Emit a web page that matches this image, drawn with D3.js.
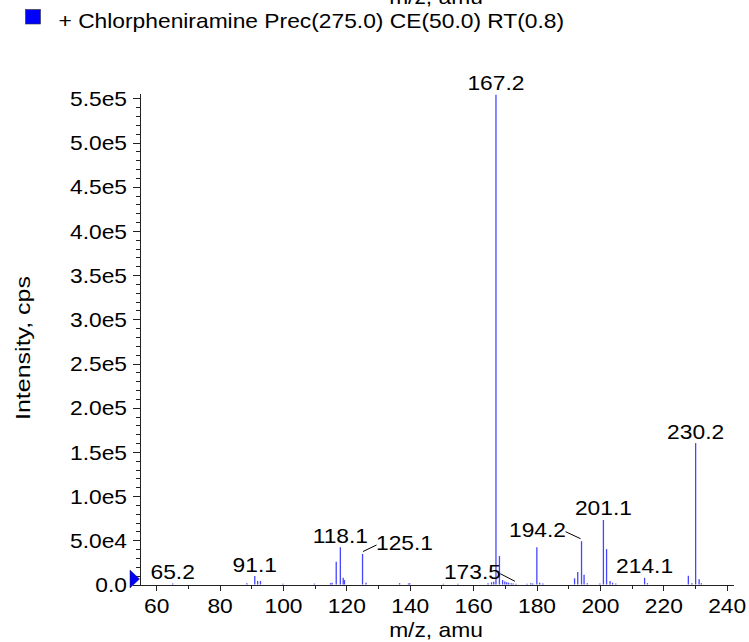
<!DOCTYPE html>
<html>
<head>
<meta charset="utf-8">
<script src="https://cdn.jsdelivr.net/npm/d3@7/dist/d3.min.js"></script>
<style>
  body { margin: 0; background: #fff; }
  svg { display: block; }
  text { font-family: "Liberation Sans", Arial, Helvetica, sans-serif; fill: #000; }
  .axis path, .axis line { stroke: #222; shape-rendering: crispEdges; }
</style>
</head>
<body>
<div id="chart"></div>
<script>
// spectrum peaks (m/z, intensity in cps)
const peakMz = [65.2, 88.6, 91.1, 92.0, 92.9, 100.0, 109.9, 115.0, 115.5, 116.8, 118.1, 119.0, 119.4,
  125.1, 126.2, 136.8, 139.6, 140.0, 150.6, 155.2, 164.7, 165.8, 166.5, 167.2, 168.3, 169.3,
  170.0, 170.6, 171.2, 172.0, 172.6, 173.5, 177.0, 178.2, 178.8, 180.1, 181.0, 182.0,
  192.0, 193.0, 194.2, 195.0, 196.0, 200.0, 201.1, 202.1, 203.2, 204.0, 205.0,
  214.1, 215.0, 227.9, 229.0, 230.2, 231.3, 232.0];
const peakInt = [1000, 1500, 9600, 4000, 4000, 800, 1000, 1500, 2000, 25800, 42000, 7700, 5000,
  34500, 2000, 1500, 1200, 1500, 800, 800, 1500, 2500, 3000, 554000, 32200, 5000,
  3500, 2500, 2000, 1500, 1000, 800, 800, 1500, 1200, 42000, 2000, 1200,
  7000, 14000, 49000, 11000, 1500, 1000, 73000, 40000, 4000, 2000, 1000,
  7500, 1500, 10000, 1500, 160000, 6000, 1500];
const labelMz = [65.2, 91.1, 118.1, 125.1, 167.2, 173.5, 194.2, 201.1, 214.1, 230.2];
const xTicks = [60, 80, 100, 120, 140, 160, 180, 200, 220, 240];
const yTicks = [0, 5e4, 1e5, 1.5e5, 2e5, 2.5e5, 3e5, 3.5e5, 4e5, 4.5e5, 5e5, 5.5e5];
const legendText = "+ Chlorpheniramine Prec(275.0) CE(50.0) RT(0.8)";

// labels pulled aside with a leader line: [dx, dy] of the label from the peak top
const leader = { "125.1": [42, -4], "173.5": [-43.5, -5], "194.2": [-44, -4.5] };

const width = 749, height = 642;
const sx = 1.14;        // glyphs in the source are a bit wide
const blue = "#0000ff";

const svg = d3.select("#chart").append("svg")
    .attr("width", width)
    .attr("height", height);

const x = d3.scaleLinear().domain([54.73, 241.99]).range([139.5, 733]);
const y = d3.scaleLinear().domain([0, 5.56e5]).range([584.5, 93]);

function stretch(tx, ty, s, rot) {
    return "translate(" + tx + "," + ty + ")" + (rot ? " rotate(" + rot + ")" : "") + " scale(" + s + ",1)";
}

// minor ticks
svg.append("g")
    .attr("class", "axis")
    .attr("transform", "translate(0," + y(0) + ")")
    .call(d3.axisBottom(x).tickValues(d3.range(70, 241, 20)).tickSize(4).tickSizeOuter(0).tickFormat(""))
    .select(".domain").remove();
svg.append("g")
    .attr("class", "axis")
    .attr("transform", "translate(" + x.range()[0] + ",0)")
    .call(d3.axisLeft(y).tickValues(d3.range(1e4, 5.56e5, 1e4)).tickSize(4).tickSizeOuter(0).tickFormat(""))
    .select(".domain").remove();

// major axes
const xAxis = svg.append("g")
    .attr("class", "axis")
    .attr("transform", "translate(0," + y(0) + ")")
    .call(d3.axisBottom(x).tickValues(xTicks).tickSize(6).tickSizeOuter(0));
xAxis.selectAll(".tick text")
    .attr("y", null).attr("dy", null)
    .attr("font-size", 20)
    .attr("transform", stretch(0, 28.5, sx));

const yAxis = svg.append("g")
    .attr("class", "axis")
    .attr("transform", "translate(" + x.range()[0] + ",0)")
    .call(d3.axisLeft(y).tickValues(yTicks).tickSize(7).tickSizeOuter(0)
        .tickFormat(d => d === 0 ? "0.0" : d3.format(".1e")(d).replace("+", "")));
yAxis.selectAll(".tick text")
    .attr("x", null).attr("dy", "0.36em")
    .attr("font-size", 20)
    .attr("transform", stretch(-12.5, 0, sx));

// peaks
const peaks = peakMz.map((m, i) => ({ mz: m, v: peakInt[i] }));
svg.append("g")
    .selectAll("line")
    .data(peaks)
    .enter().append("line")
    .attr("x1", d => x(d.mz)).attr("x2", d => x(d.mz))
    .attr("y1", y(0)).attr("y2", d => y(d.v))
    .attr("stroke", "#4646ff")
    .attr("stroke-width", 1.3);

// peak labels
const labels = labelMz.map(m => peaks.find(p => p.mz === m));
const lab = svg.append("g").selectAll("g")
    .data(labels)
    .enter().append("g");
lab.append("text")
    .attr("font-size", 20)
    .attr("text-anchor", "middle")
    .attr("transform", d => {
        const o = leader[d.mz.toFixed(1)] || [0, -4.5];
        return stretch(x(d.mz) + o[0], y(d.v) + o[1], sx);
    })
    .text(d => d.mz.toFixed(1));
lab.filter(d => leader[d.mz.toFixed(1)])
    .append("line")
    .attr("stroke", "#000")
    .attr("stroke-width", 1)
    .attr("x1", d => x(d.mz) + (leader[d.mz.toFixed(1)][0] > 0 ? 0.5 : -1))
    .attr("y1", d => y(d.v) - 2.5)
    .attr("x2", d => {
        const o = leader[d.mz.toFixed(1)];
        return x(d.mz) + o[0] - Math.sign(o[0]) * 28;
    })
    .attr("y2", d => y(d.v) + leader[d.mz.toFixed(1)][1] - 5);

// zero marker
svg.append("path")
    .attr("d", d3.line()([[x.range()[0] - 9.5, y(0) - 14.5], [x.range()[0], y(0) - 5.5], [x.range()[0] - 9.5, y(0) + 3.5]]) + "Z")
    .attr("fill", blue)
    .attr("stroke", "#222")
    .attr("stroke-width", 0.5);

// axis titles
svg.append("text")
    .attr("font-size", 20)
    .attr("text-anchor", "middle")
    .attr("transform", stretch(436, 637, sx))
    .text("m/z, amu");
// bottom of the panel above, cut off by the frame
svg.append("text")
    .attr("font-size", 20)
    .attr("text-anchor", "middle")
    .attr("transform", stretch(436, 3.5, sx))
    .text("m/z, amu");
svg.append("text")
    .attr("font-size", 20)
    .attr("text-anchor", "middle")
    .attr("transform", stretch(29.5, 348, 1.25, -90))
    .text("Intensity, cps");

// legend
svg.append("rect")
    .attr("x", 25.5).attr("y", 9.5)
    .attr("width", 15).attr("height", 14.5)
    .attr("fill", blue)
    .attr("stroke", "#333")
    .attr("stroke-width", 0.6);
svg.append("text")
    .attr("font-size", 20)
    .attr("transform", stretch(58.5, 27.5, sx))
    .text(legendText);
</script>
</body>
</html>
